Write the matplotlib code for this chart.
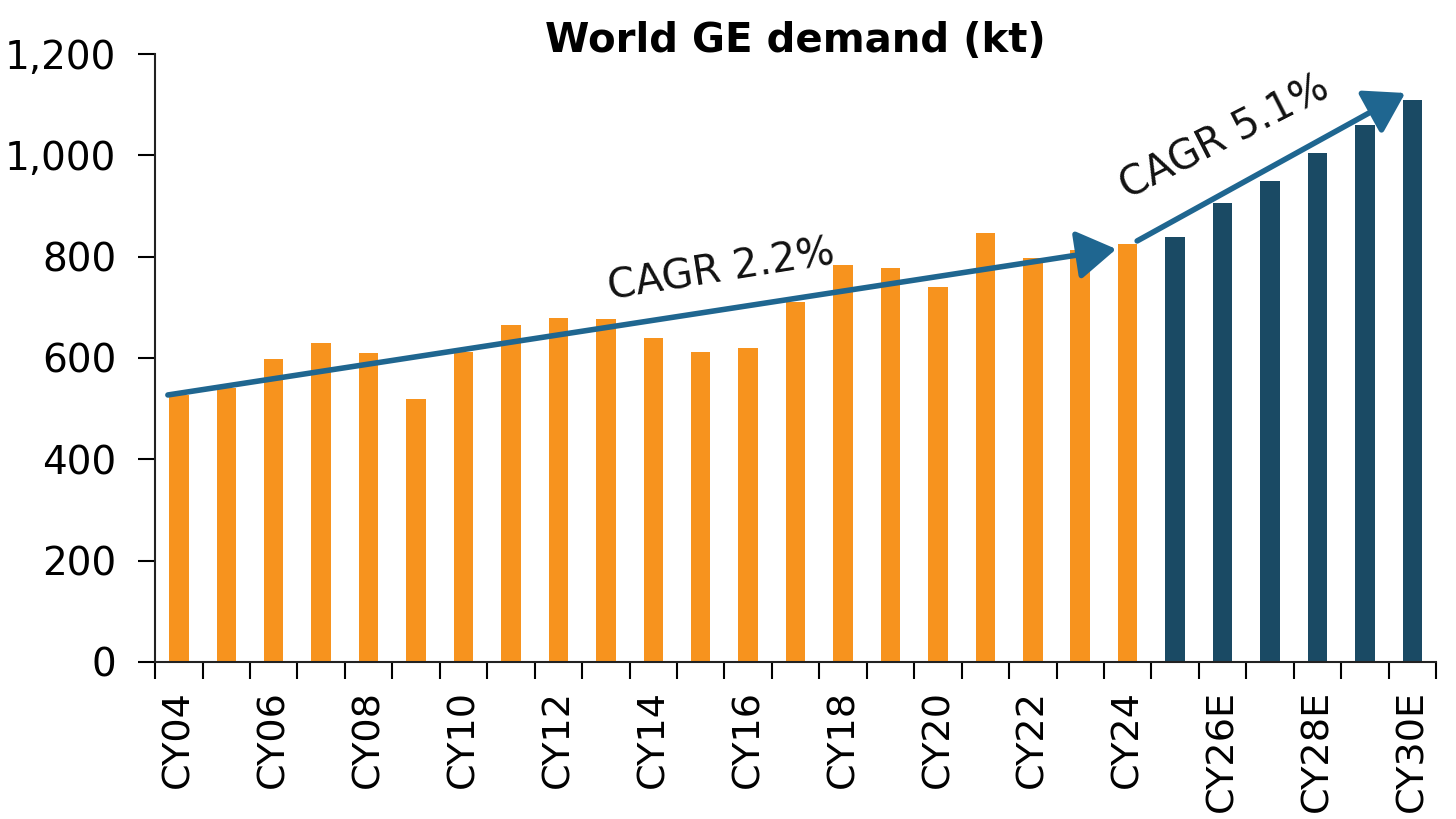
import numpy as np
import matplotlib
matplotlib.use("Agg")
import matplotlib.pyplot as plt

plt.rcParams["font.family"] = ["DejaVu Sans"]

# ---------- data ----------
years = ["CY04", "CY05", "CY06", "CY07", "CY08", "CY09", "CY10", "CY11", "CY12",
         "CY13", "CY14", "CY15", "CY16", "CY17", "CY18", "CY19", "CY20", "CY21",
         "CY22", "CY23", "CY24", "CY25E", "CY26E", "CY27E", "CY28E", "CY29E", "CY30E"]
demand = [527, 541, 598, 630, 610, 519, 612, 665, 679,
          677, 640, 612, 620, 710, 783, 777, 740, 847,
          797, 813, 825, 839, 905, 949, 1005, 1060, 1109]
is_estimate = [y.endswith("E") for y in years]

orange = "#F7931E"
navy = "#1A4A64"
arrow_col = "#1F6690"

fig = plt.figure(figsize=(14.56, 8.19), dpi=100)
ax = fig.add_axes([0.1065, 0.1917, 0.8798, 0.7424])

x = np.arange(len(years))
colors = [navy if e else orange for e in is_estimate]
ax.bar(x, demand, width=0.41, color=colors, zorder=2)

ax.set_xlim(-0.5, len(years) - 0.5)
ax.set_ylim(0, 1200)
ax.set_yticks(np.arange(0, 1201, 200))
ax.set_yticklabels([f"{v:,}" for v in range(0, 1201, 200)])

# ticks between categories, labels at every other bar
ax.set_xticks(np.arange(-0.5, len(years), 1.0))
ax.set_xticklabels([])
ax.set_xticks(x, minor=True)
ax.set_xticklabels([y if i % 2 == 0 else "" for i, y in enumerate(years)],
                   minor=True, rotation=90, va="top", ha="center")
ax.tick_params(axis="x", which="major", length=12, width=1.5, direction="out")
ax.tick_params(axis="x", which="minor", length=0, pad=20, labelsize=27.5)
ax.tick_params(axis="y", length=12, width=1.5, pad=16, labelsize=28)

for s in ["top", "right"]:
    ax.spines[s].set_visible(False)
for s in ["left", "bottom"]:
    ax.spines[s].set_linewidth(1.5)
    ax.spines[s].set_color("#222222")

# ---------- CAGR arrows ----------
arrow_style = "-|>,head_length=0.8,head_width=0.5"
ax.annotate("", xy=(19.76, 815), xytext=(-0.23, 527),
            arrowprops=dict(arrowstyle=arrow_style, color=arrow_col, lw=4,
                            mutation_scale=30, shrinkA=0, shrinkB=0), zorder=3)
ax.annotate("", xy=(25.85, 1123), xytext=(20.2, 831),
            arrowprops=dict(arrowstyle=arrow_style, color=arrow_col, lw=4,
                            mutation_scale=30, shrinkA=0, shrinkB=0), zorder=3)

ax.text(11.44, 772, "CAGR 2.2%", fontsize=29, rotation=9,
        ha="center", va="center", color="#111111", zorder=4)
ax.text(22.05, 1035, "CAGR 5.1%", fontsize=29, rotation=27,
        ha="center", va="center", color="#111111", zorder=4)

fig.text(795 / 1456, 1 - 52 / 819, "World GE demand (kt)", fontsize=29,
         fontweight="bold", ha="center", va="baseline")

fig.savefig("out.png", dpi=100)
